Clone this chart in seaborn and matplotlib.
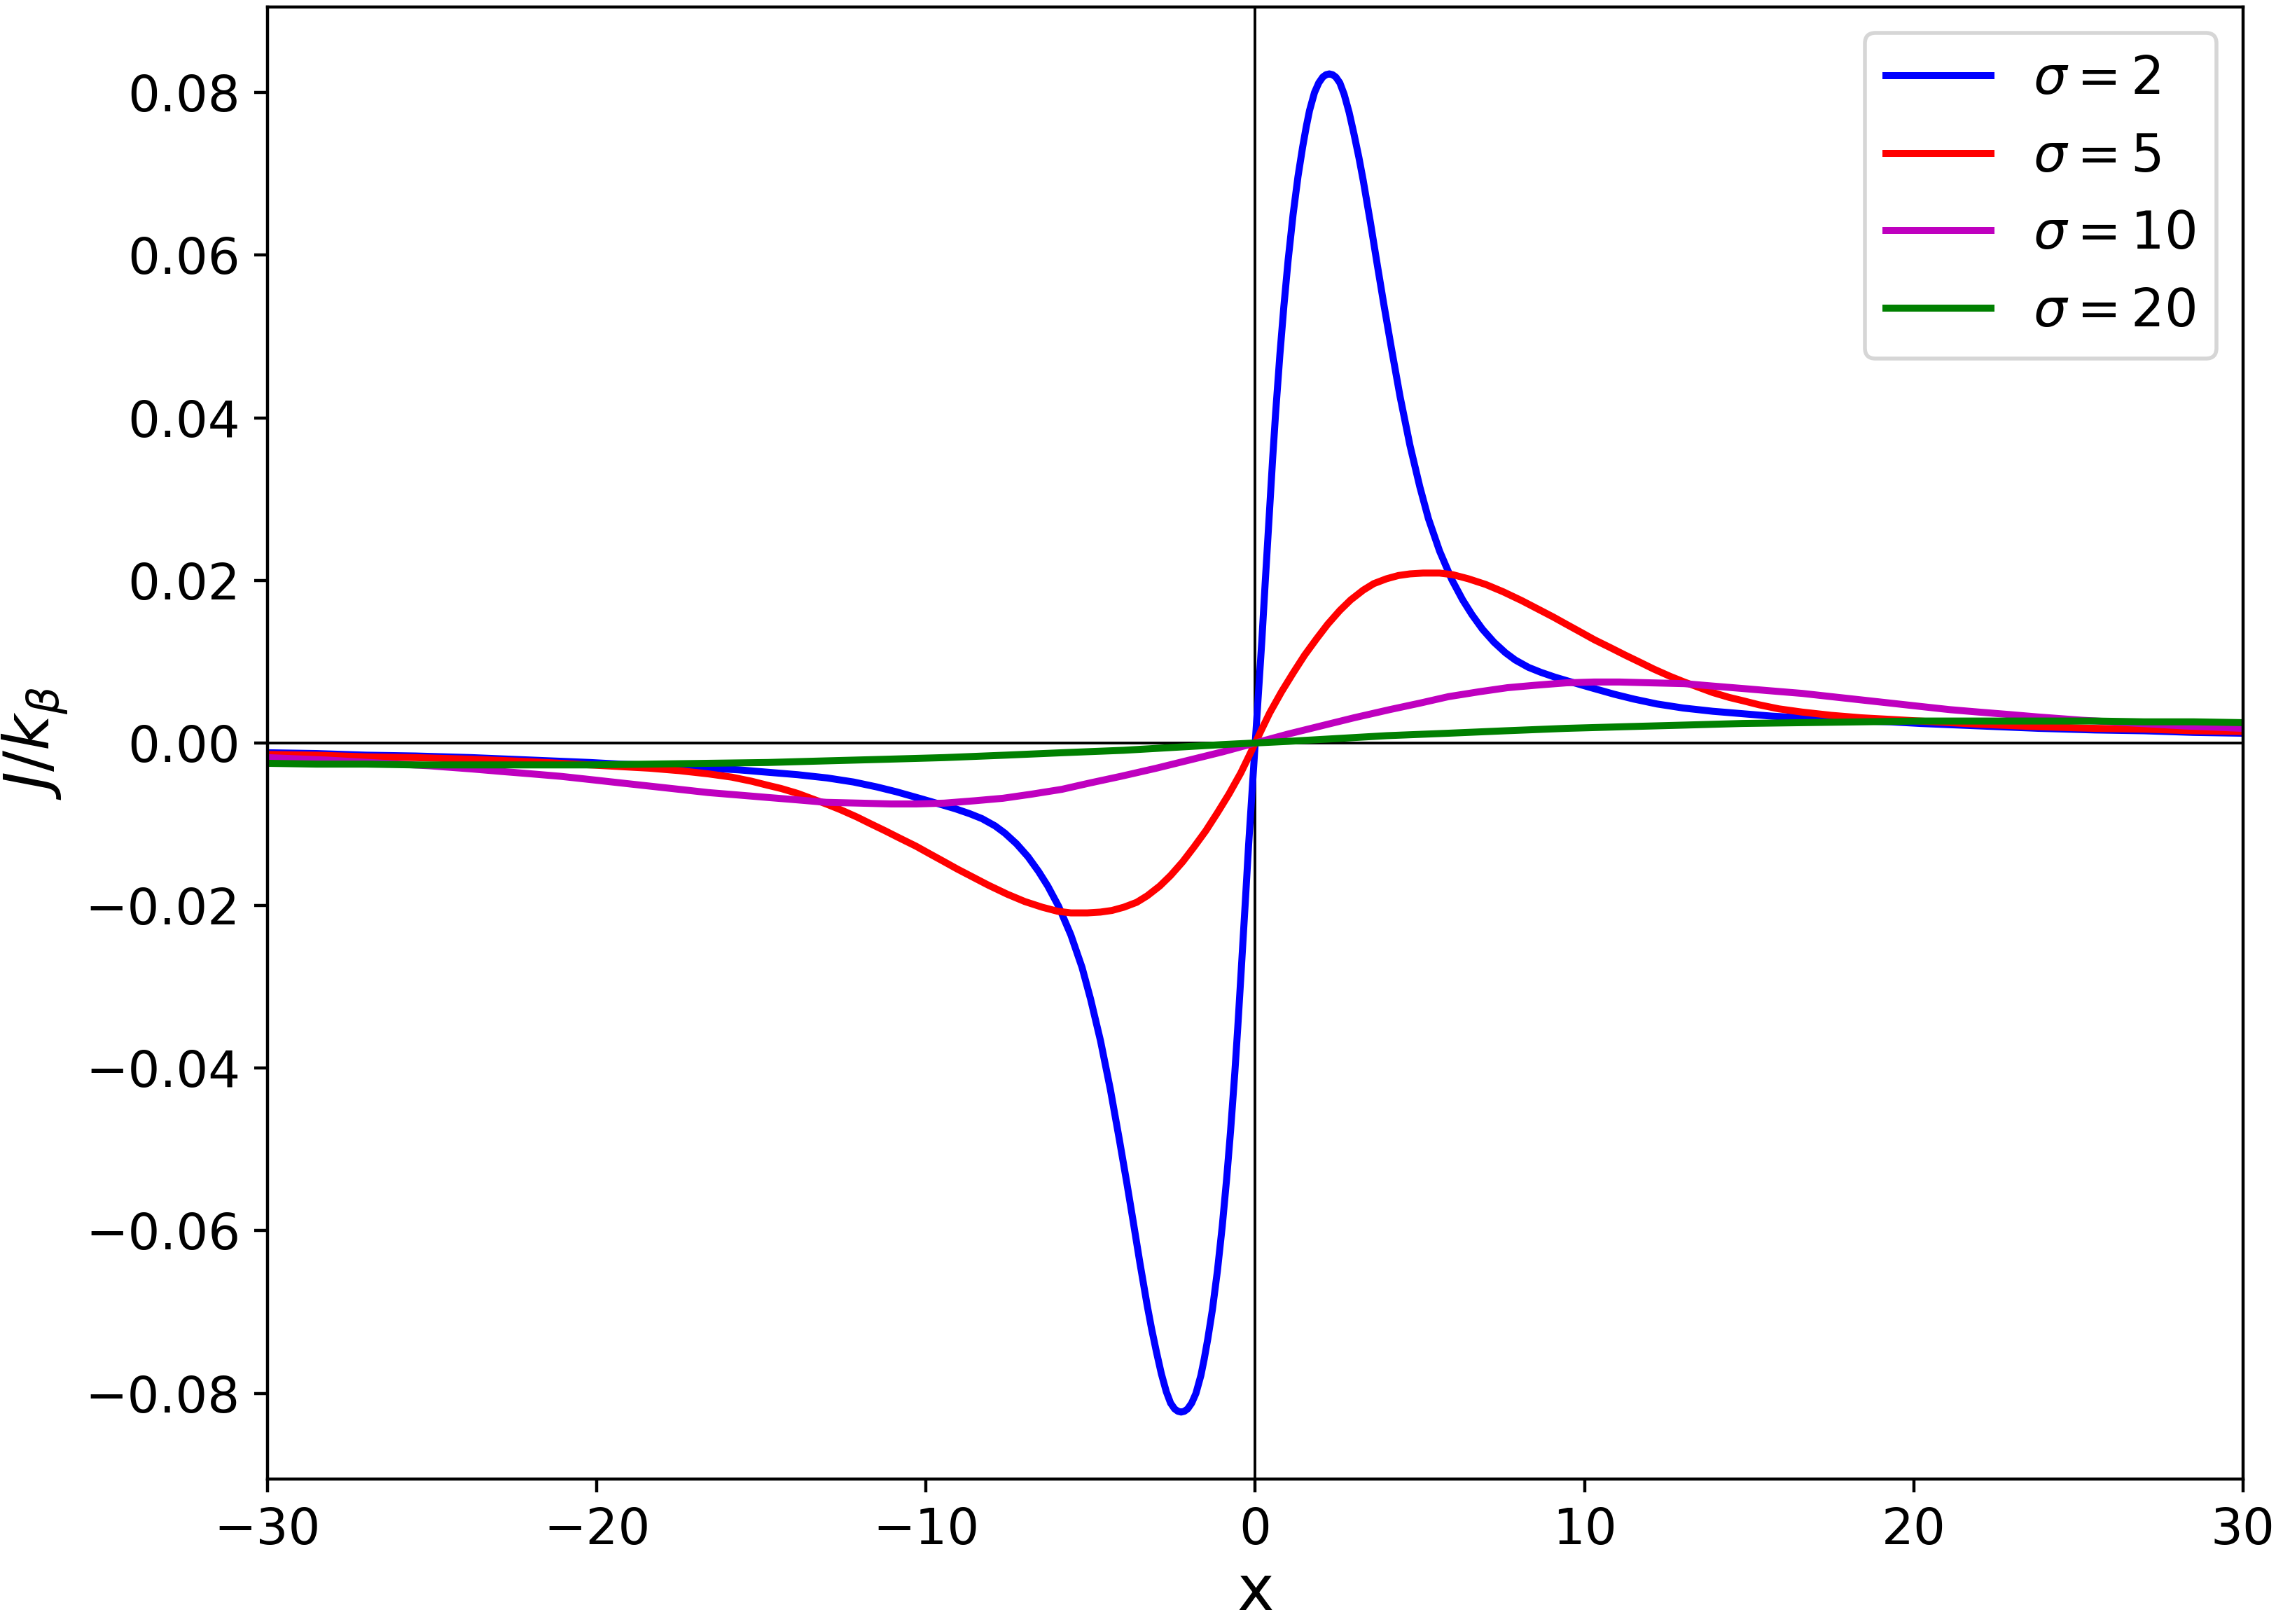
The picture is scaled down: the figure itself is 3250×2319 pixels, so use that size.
import numpy as np
import matplotlib
matplotlib.use("Agg")
import matplotlib.pyplot as plt
import seaborn as sns

# values (left half x < 0, right half x >= 0)
blue_x_left = [-30.0, -28.5, -27.0, -25.5, -23.8, -22.0, -20.2, -19.3, -18.5, -17.5, -16.6, -15.7,
               -14.8, -13.9, -13.0, -12.2, -11.5, -10.9, -10.2, -9.6, -9.1, -8.67, -8.3, -7.9, -7.6,
               -7.25, -6.9, -6.58, -6.3, -5.97, -5.6, -5.26, -5.0, -4.70, -4.4, -4.13, -3.9, -3.70,
               -3.5, -3.28, -3.15, -3.0, -2.85, -2.7, -2.57, -2.45, -2.35, -2.25, -2.15, -2.05,
               -1.93, -1.8, -1.65, -1.55, -1.44, -1.3, -1.15, -1.0, -0.87, -0.75, -0.62, -0.53,
               -0.44, -0.3, -0.2, -0.1]
blue_y_left = [-0.0012, -0.0013, -0.0015, -0.0016, -0.0018, -0.0021, -0.0024, -0.0026, -0.0027,
               -0.0029, -0.0031, -0.0033, -0.0036, -0.0039, -0.0043, -0.0048, -0.0054, -0.0060,
               -0.0068, -0.0075, -0.0081, -0.0087, -0.0093, -0.0102, -0.0111, -0.0124, -0.0140,
               -0.0158, -0.0176, -0.0201, -0.0236, -0.0276, -0.0315, -0.0366, -0.0426, -0.0487,
               -0.0541, -0.0590, -0.0640, -0.0692, -0.0720, -0.0749, -0.0776, -0.0798, -0.0812,
               -0.0819, -0.0822, -0.0823, -0.0822, -0.0819, -0.0812, -0.0800, -0.0778, -0.0758,
               -0.0733, -0.0697, -0.0650, -0.0594, -0.0537, -0.0478, -0.0406, -0.0350, -0.0290,
               -0.0195, -0.0125, -0.0062]
blue_x_right = [0.0, 0.1, 0.2, 0.3, 0.44, 0.53, 0.62, 0.75, 0.87, 1.0, 1.15, 1.3, 1.44, 1.55, 1.65,
                1.8, 1.93, 2.05, 2.15, 2.25, 2.35, 2.45, 2.57, 2.7, 2.85, 3.0, 3.15, 3.28, 3.5, 3.70,
                3.9, 4.13, 4.4, 4.70, 5.0, 5.26, 5.6, 5.97, 6.3, 6.58, 6.9, 7.25, 7.6, 7.9, 8.3,
                8.67, 9.1, 9.6, 10.2, 10.9, 11.5, 12.2, 13.0, 13.9, 14.8, 15.7, 16.6, 17.5, 18.5,
                19.3, 20.2, 22.0, 23.8, 25.5, 27.0, 28.5, 30.0]
blue_y_right = [0.0, 0.0062, 0.0125, 0.0195, 0.0290, 0.0350, 0.0406, 0.0478, 0.0537, 0.0594,
                0.0650, 0.0697, 0.0733, 0.0758, 0.0778, 0.0800, 0.0812, 0.0819, 0.0822, 0.0823,
                0.0822, 0.0819, 0.0812, 0.0798, 0.0776, 0.0749, 0.0720, 0.0692, 0.0640, 0.0590,
                0.0541, 0.0487, 0.0426, 0.0366, 0.0315, 0.0276, 0.0236, 0.0201, 0.0176, 0.0158,
                0.0140, 0.0124, 0.0111, 0.0102, 0.0093, 0.0087, 0.0081, 0.0075, 0.0068, 0.0060,
                0.0054, 0.0048, 0.0043, 0.0039, 0.0036, 0.0033, 0.0031, 0.0029, 0.0027, 0.0026,
                0.0024, 0.0021, 0.0018, 0.0016, 0.0015, 0.0013, 0.0012]

red_x_left = [-30.0, -28.5, -27.0, -25.5, -23.77, -22.0, -20.19, -19.3, -18.4, -17.5, -16.61, -15.9,
              -15.3, -14.81, -14.4, -13.9, -13.5, -13.03, -12.6, -12.1, -11.7, -11.24, -10.8, -10.3,
              -9.9, -9.45, -9.05, -8.67, -8.1, -7.53, -7.0, -6.47, -6.0, -5.6, -5.1, -4.70, -4.35,
              -3.99, -3.6, -3.28, -2.9, -2.57, -2.2, -1.86, -1.5, -1.15, -0.8, -0.44, -0.2]
red_y_left = [-0.0014, -0.0015, -0.0017, -0.0018, -0.0020, -0.0023, -0.0027, -0.0029, -0.0031,
              -0.0034, -0.0038, -0.0042, -0.0047, -0.0052, -0.0056, -0.0062, -0.0068, -0.0075,
              -0.0082, -0.0091, -0.0099, -0.0108, -0.0117, -0.0127, -0.0136, -0.0146, -0.0155,
              -0.0163, -0.0175, -0.0186, -0.0195, -0.0202, -0.0207, -0.0209, -0.0209, -0.0208,
              -0.0206, -0.0202, -0.0196, -0.0188, -0.0176, -0.0163, -0.0146, -0.0128, -0.0108,
              -0.0086, -0.0063, -0.0037, -0.0017]
red_x_right = [0.0, 0.2, 0.44, 0.8, 1.15, 1.5, 1.86, 2.2, 2.57, 2.9, 3.28, 3.6, 3.99, 4.35, 4.70,
               5.1, 5.6, 6.0, 6.47, 7.0, 7.53, 8.1, 8.67, 9.05, 9.45, 9.9, 10.3, 10.8, 11.24, 11.7,
               12.1, 12.6, 13.03, 13.5, 13.9, 14.4, 14.81, 15.3, 15.9, 16.61, 17.5, 18.4, 19.3,
               20.19, 22.0, 23.77, 25.5, 27.0, 28.5, 30.0]
red_y_right = [0.0, 0.0017, 0.0037, 0.0063, 0.0086, 0.0108, 0.0128, 0.0146, 0.0163, 0.0176, 0.0188,
               0.0196, 0.0202, 0.0206, 0.0208, 0.0209, 0.0209, 0.0207, 0.0202, 0.0195, 0.0186,
               0.0175, 0.0163, 0.0155, 0.0146, 0.0136, 0.0127, 0.0117, 0.0108, 0.0099, 0.0091,
               0.0082, 0.0075, 0.0068, 0.0062, 0.0056, 0.0052, 0.0047, 0.0042, 0.0038, 0.0034,
               0.0031, 0.0029, 0.0027, 0.0023, 0.0020, 0.0018, 0.0017, 0.0015, 0.0014]

mag_x_left = [-30.0, -28.2, -26.46, -25.1, -23.77, -22.9, -21.98, -21.1, -20.19, -19.3, -18.4, -17.5,
              -16.61, -15.7, -14.81, -13.9, -13.03, -12.0, -11.06, -10.3, -9.45, -8.5, -7.66, -6.8,
              -5.87, -5.0, -4.08, -3.0, -2.0, -1.0]
mag_y_left = [-0.0018, -0.0021, -0.0025, -0.0028, -0.0032, -0.0035, -0.0038, -0.0041, -0.0045,
              -0.0049, -0.0053, -0.0057, -0.0061, -0.0064, -0.0067, -0.0070, -0.0073, -0.0074,
              -0.0075, -0.0075, -0.0074, -0.0071, -0.0068, -0.0063, -0.0057, -0.0049, -0.0041,
              -0.0031, -0.0021, -0.0011]
mag_x_right = [0.0, 1.0, 2.0, 3.0, 4.08, 5.0, 5.87, 6.8, 7.66, 8.5, 9.45, 10.3, 11.06, 12.0, 13.03,
               13.9, 14.81, 15.7, 16.61, 17.5, 18.4, 19.3, 20.19, 21.1, 21.98, 22.9, 23.77, 25.1,
               26.46, 28.2, 30.0]
mag_y_right = [0.0, 0.0011, 0.0021, 0.0031, 0.0041, 0.0049, 0.0057, 0.0063, 0.0068, 0.0071, 0.0074,
               0.0075, 0.0075, 0.0074, 0.0073, 0.0070, 0.0067, 0.0064, 0.0061, 0.0057, 0.0053,
               0.0049, 0.0045, 0.0041, 0.0038, 0.0035, 0.0032, 0.0028, 0.0025, 0.0021, 0.0018]

green_x_left = [-30.0, -28.5, -27.0, -25.5, -23.77, -22.0, -20.19, -18.4, -16.61, -14.8, -13.03,
                -11.2, -9.45, -7.6, -5.87, -4.0, -2.29, -1.0]
green_y_left = [-0.0025, -0.0026, -0.0026, -0.0027, -0.0027, -0.0027, -0.0027, -0.0026, -0.0025,
                -0.0024, -0.0022, -0.0020, -0.0018, -0.0015, -0.0012, -0.0009, -0.0005, -0.0002]
green_x_right = [0.0, 1.0, 2.29, 4.0, 5.87, 7.6, 9.45, 11.2, 13.03, 14.8, 16.61, 18.4, 20.19, 22.0,
                 23.77, 25.5, 27.0, 28.5, 30.0]
green_y_right = [0.0, 0.0002, 0.0005, 0.0009, 0.0012, 0.0015, 0.0018, 0.0020, 0.0022, 0.0024,
                 0.0025, 0.0026, 0.0027, 0.0027, 0.0027, 0.0027, 0.0026, 0.0026, 0.0025]

series = [
    (blue_x_left + blue_x_right, blue_y_left + blue_y_right, "b", r"$\sigma = 2$"),
    (red_x_left + red_x_right, red_y_left + red_y_right, "r", r"$\sigma = 5$"),
    (mag_x_left + mag_x_right, mag_y_left + mag_y_right, "m", r"$\sigma = 10$"),
    (green_x_left + green_x_right, green_y_left + green_y_right, "g", r"$\sigma = 20$"),
]

fig = plt.figure(figsize=(8.125, 5.7975), dpi=400)
ax = fig.add_axes([0.1175, 0.0893, 0.8680, 0.9064])

ax.axhline(0, color="k", lw=0.7)
ax.axvline(0, color="k", lw=0.7)

for xs, ys, col, lab in series:
    sns.lineplot(x=xs, y=ys, color=col, label=lab, linewidth=1.8, ax=ax)

ax.set_xlim(-30, 30)
ax.set_xticks([-30, -20, -10, 0, 10, 20, 30])
ax.set_yticks(np.arange(-0.08, 0.081, 0.02))
ax.tick_params(labelsize=13)
ax.set_xlabel("x", fontsize=16, labelpad=2)
ax.set_ylabel(r"$J/k_\beta$", fontsize=16)
ax.legend(loc="upper right", fontsize=13.5)

fig.savefig("out.png", dpi=400)
